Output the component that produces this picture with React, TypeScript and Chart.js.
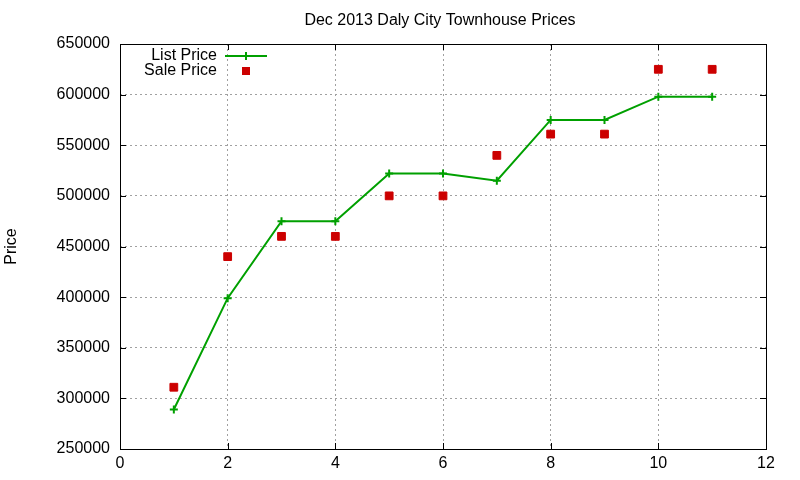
import { useEffect, useRef } from "react";
import { Chart, registerables } from "chart.js";

const months = [1, 2, 3, 4, 5, 6, 7, 8, 9, 10, 11];
const listPrice = [289000, 399000, 475000, 475000, 522000, 522000, 515000, 575000, 575000, 598000, 598000];
const salePrice = [311000, 440000, 460000, 460000, 500000, 500000, 540000, 561000, 561000, 625000, 625000];
const chartTitle = "Dec 2013 Daly City Townhouse Prices";

const GREEN = "#00a000";
const RED = "#cc0000";
const FONT = "'Liberation Sans', Arial, sans-serif";

// gnuplot-ish frame: black border + inward ticks on all four sides, title over the plot
const framePlugin = {
  id: "frame",
  beforeDatasetsDraw(chart: any) {
    const { ctx, chartArea: a, scales } = chart;
    ctx.save();
    ctx.strokeStyle = "#000";
    ctx.lineWidth = 1;
    ctx.setLineDash([]);
    ctx.strokeRect(a.left + 0.5, a.top + 0.5, a.right - a.left, a.bottom - a.top);
    const len = 6;
    ctx.beginPath();
    scales.x.ticks.forEach((t: any) => {
      const px = Math.round(scales.x.getPixelForValue(t.value)) + 0.5;
      ctx.moveTo(px, a.bottom);
      ctx.lineTo(px, a.bottom - len);
      ctx.moveTo(px, a.top);
      ctx.lineTo(px, a.top + len);
    });
    scales.y.ticks.forEach((t: any) => {
      const py = Math.round(scales.y.getPixelForValue(t.value)) + 0.5;
      ctx.moveTo(a.left, py);
      ctx.lineTo(a.left + len, py);
      ctx.moveTo(a.right, py);
      ctx.lineTo(a.right - len, py);
    });
    ctx.stroke();

    ctx.font = `16px ${FONT}`;
    ctx.fillStyle = "#000";
    ctx.textAlign = "center";
    ctx.textBaseline = "middle";
    ctx.fillText(chartTitle, (a.left + a.right) / 2 - 3, 21);
    ctx.restore();
  },
};

const keyPlugin = {
  id: "key",
  afterDraw(chart: any) {
    const { ctx, chartArea: a } = chart;
    const textRight = a.left + 97;
    const sampleX = a.left + 126;
    ctx.save();
    ctx.font = `16px ${FONT}`;
    ctx.fillStyle = "#000";
    ctx.textAlign = "right";
    ctx.textBaseline = "middle";

    // List Price
    let y = a.top + 12;
    ctx.fillText(chart.data.datasets[0].label, textRight, y);
    ctx.strokeStyle = GREEN;
    ctx.lineWidth = 2;
    ctx.beginPath();
    ctx.moveTo(sampleX - 21, y);
    ctx.lineTo(sampleX + 21, y);
    ctx.moveTo(sampleX, y - 4);
    ctx.lineTo(sampleX, y + 4);
    ctx.stroke();

    // Sale Price
    y = a.top + 27;
    ctx.fillText(chart.data.datasets[1].label, textRight, y);
    ctx.fillStyle = RED;
    ctx.fillRect(sampleX - 4, y - 4, 8, 8);
    ctx.restore();
  },
};

export default function App() {
  const canvasRef = useRef<HTMLCanvasElement>(null);

  useEffect(() => {
    Chart.register(...registerables);
    const ctx = canvasRef.current!.getContext("2d")!;

    const chart = new Chart(ctx, {
      type: "line",
      data: {
        datasets: [
          {
            label: "List Price",
            data: months.map((m, i) => ({ x: m, y: listPrice[i] })),
            borderColor: GREEN,
            backgroundColor: GREEN,
            borderWidth: 2,
            pointStyle: "cross",
            pointRadius: 4,
            pointBorderWidth: 2,
            pointBorderColor: GREEN,
            tension: 0,
          },
          {
            label: "Sale Price",
            data: months.map((m, i) => ({ x: m, y: salePrice[i] })),
            showLine: false,
            borderColor: RED,
            backgroundColor: RED,
            pointStyle: "rect",
            pointRadius: 5.5,
            pointBorderWidth: 1,
          },
        ],
      },
      options: {
        responsive: false,
        animation: false,
        layout: { padding: { left: 0, right: 34, top: 44, bottom: 0 } },
        scales: {
          x: {
            type: "linear",
            min: 0,
            max: 12,
            ticks: {
              stepSize: 2,
              padding: 5,
              color: "#000",
              font: { family: FONT, size: 16 },
            },
            grid: { color: "#a0a0a0", drawTicks: false },
            border: { display: false, dash: [2, 3] },
            afterFit: (s: any) => {
              s.height = 31;
            },
          },
          y: {
            min: 250000,
            max: 650000,
            ticks: {
              stepSize: 50000,
              padding: 10,
              color: "#000",
              font: { family: FONT, size: 16 },
              callback: (v: any) => String(v),
            },
            grid: { color: "#a0a0a0", drawTicks: false },
            border: { display: false, dash: [2, 3] },
            title: {
              display: true,
              text: "Price",
              color: "#000",
              font: { family: FONT, size: 16 },
              padding: { top: 2, bottom: 0 },
            },
            afterFit: (s: any) => {
              s.width = 120;
            },
          },
        },
        plugins: {
          legend: { display: false },
          tooltip: { enabled: false },
          title: { display: false },
        },
      },
      plugins: [framePlugin, keyPlugin],
    });

    return () => {
      chart.destroy();
    };
  }, []);

  return (
    <div style={{ position: "fixed", left: 0, top: 0, width: 800, height: 480, background: "#fff" }}>
      <canvas ref={canvasRef} width={800} height={480} />
    </div>
  );
}
